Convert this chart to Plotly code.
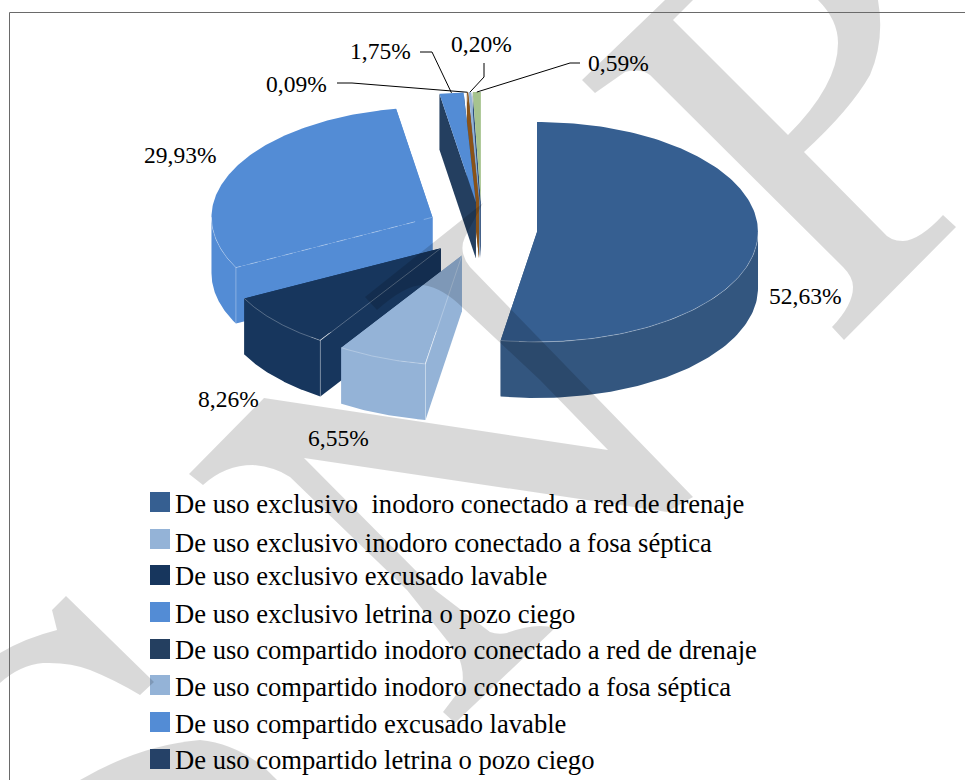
import numpy as np
import plotly.graph_objects as go

# Datos
categorias = [
    "De uso exclusivo  inodoro conectado a red de drenaje",
    "De uso exclusivo inodoro conectado a fosa séptica",
    "De uso exclusivo excusado lavable",
    "De uso exclusivo letrina o pozo ciego",
    "De uso compartido inodoro conectado a red de drenaje",
    "De uso compartido inodoro conectado a fosa séptica",
    "De uso compartido excusado lavable",
    "De uso compartido letrina o pozo ciego",
]
colores_leyenda = ["#365f91", "#94b3d7", "#17365d", "#538cd5", "#243f60", "#94b3d7", "#538cd5", "#2c4d7a"]

# sectores en orden; los tres ultimos no alcanzan a verse en la leyenda recortada
valores = [52.63, 6.55, 8.26, 29.93, 0.0, 0.0, 1.75, 0.0, 0.09, 0.20, 0.59]
etiquetas = ["52,63%", "6,55%", "8,26%", "29,93%", "", "", "1,75%", "", "0,09%", "0,20%", "0,59%"]
color_tapa = ["#365f91", "#94b3d7", "#17365d", "#538cd5", "#243f60", "#94b3d7", "#538cd5", "#2c4d7a", "#8a5318", "#94b3d7", "#a6c38e"]
color_pared = ["#33567f", "#94b3d7", "#17365d", "#538cd5", "#243f60", "#94b3d7", "#538cd5", "#2c4d7a", "#8a5318", "#94b3d7", "#a6c38e"]
color_corte = ["#33567f", "#94b3d7", "#17365d", "#538cd5", "#243f60", "#94b3d7", "#243f60", "#2c4d7a", "#8a5318", "#6f8fb5", "#2c4d7a"]

# Pie en perspectiva, en pixeles de la pagina
cx, cy = 481.9, 229.7
rx, ry = 221, 110
alto = 56
explosion = 55.3
orden_dibujo = [10, 9, 8, 6, 3, 0, 2, 1]

# posicion de las etiquetas (centro en x, centro en y)
pos_etiqueta = {0: (805, 296), 1: (338, 438), 2: (228, 399), 3: (180, 155),
                6: (380, 51), 8: (296, 84), 9: (481, 44), 10: (618, 63)}
# quiebres de las lineas guia
guia = {6: [(420, 52), (432, 52)], 8: [(337, 83), (352, 83)],
        9: [(484, 63), (484, 77)], 10: [(580, 63), (570, 63)]}

leyenda_y = [502, 539, 575, 612, 649, 685, 722, 759]
leyenda_base = [512, 551, 584, 622, 658, 695, 732, 768]


def punto(c, ang):
    return c[0] + rx * np.sin(ang), c[1] - ry * np.cos(ang)


def poly(fig, xs, ys, color):
    fig.add_trace(go.Scatter(x=list(xs), y=list(ys), mode="lines", fill="toself", fillcolor=color,
                             line=dict(width=0), hoverinfo="skip", showlegend=False))


def linea(fig, xs, ys, color="rgba(255,255,255,0.4)", width=0.7, dash="solid"):
    fig.add_trace(go.Scatter(x=list(xs), y=list(ys), mode="lines", line=dict(color=color, width=width, dash=dash),
                             hoverinfo="skip", showlegend=False))


fig = go.Figure()

total = sum(valores)
limites = np.cumsum([0] + valores) / total * 2 * np.pi
centros = {}
for i in range(len(valores)):
    a0, a1 = limites[i], limites[i + 1]
    medio = (a0 + a1) / 2
    centros[i] = (cx + explosion * np.sin(medio), cy - explosion / 2 * np.cos(medio))

for i in orden_dibujo:
    a0, a1 = limites[i], limites[i + 1]
    c = centros[i]
    # caras de corte
    for a in (a1, a0):
        px, py = punto(c, a)
        poly(fig, [c[0], px, px, c[0], c[0]], [c[1], py, py + alto, c[1] + alto, c[1]], color_corte[i])
    # pared exterior, solo lo que mira al frente
    p0, p1 = max(a0, np.pi / 2), min(a1, 3 * np.pi / 2)
    if p1 > p0:
        angs = np.linspace(p0, p1, 80)
        xa, ya = punto(c, angs)
        poly(fig, np.r_[xa, xa[::-1]], np.r_[ya, ya[::-1] + alto], color_pared[i])
    # tapa
    angs = np.linspace(a0, a1, 160)
    xa, ya = punto(c, angs)
    poly(fig, np.r_[c[0], xa, c[0]], np.r_[c[1], ya, c[1]], color_tapa[i])
    # filos claros de los sectores grandes
    if valores[i] > 5:
        if p1 > p0:
            angs = np.linspace(p0, p1, 80)
            xa, ya = punto(c, angs)
            linea(fig, xa, ya)
        if i != 0:
            px, py = punto(c, a0)
            linea(fig, [c[0], px], [c[1], py], dash="dash" if i == 3 else "solid")
            linea(fig, [px, px], [py, py + alto])

# lineas guia hacia los sectores pequenos
for i, quiebre in guia.items():
    medio = (limites[i] + limites[i + 1]) / 2
    px, py = punto(centros[i], medio)
    xs = [q[0] for q in quiebre] + [px]
    ys = [q[1] for q in quiebre] + [py]
    linea(fig, xs, ys, color="black", width=1)

# leyenda
fig.add_trace(go.Scatter(x=[160] * len(categorias), y=leyenda_y, mode="markers",
                         marker=dict(symbol="square", size=20, color=colores_leyenda, line=dict(width=0)),
                         hoverinfo="skip", showlegend=False))

anotaciones = []
for i, (x, y) in pos_etiqueta.items():
    anotaciones.append(dict(x=x, y=y, text=etiquetas[i], showarrow=False, xanchor="center", yanchor="middle",
                            font=dict(family="Liberation Serif", size=23.5, color="black")))
for nombre, base in zip(categorias, leyenda_base):
    anotaciones.append(dict(x=175, y=base - 8, text=nombre, showarrow=False, xanchor="left", yanchor="middle",
                            xshift=-2, font=dict(family="Liberation Serif", size=26.6, color="black")))

# marca de agua
marca_r = ("M582,80 L665,0 L693,0 L673,20 L788,135 Q838,85 838,43 Q838,20 818,0 L878,0 Q885,40 870,75 "
           "Q850,110 804,152 L883,232 Q890,241 903,241 Q920,240 943,215 L956,227 L844,340 L832,327 "
           "Q853,305 853,287 Q853,277 843,267 L650,75 Q640,68 625,72 L595,93 Z")
marca_n = ("M483,203 L365,297 L377,310 Q405,285 423,285 Q443,288 463,308 L540,380 L608,450 L264,398 L189,474 "
           "L203,485 Q225,465 253,465 Q275,467 290,477 L407,590 L457,653 Q465,670 462,687 L443,712 L455,723 "
           "L555,628 Q535,622 507,633 Q498,635 490,632 L435,590 L304,458 L667,512 L693,497 L470,267 "
           "Q458,252 465,237 Z")
marca_a = ("M66,596 L52,610 L57,630 Q25,638 0,653 L0,683 Q20,665 43,663 Q70,662 90,670 Q115,680 140,695 L154,682 Z")
marca_b = "M80,780 Q140,745 200,740 Q245,745 277,780 Z"
formas = [dict(type="path", path=p, xref="x", yref="y", fillcolor="rgba(0,0,0,0.15)", line=dict(width=0), layer="above")
          for p in (marca_r, marca_n, marca_a, marca_b)]
# marco del grafico
formas.append(dict(type="line", x0=9.5, x1=9.5, y0=12.5, y1=780, xref="x", yref="y", line=dict(color="#6a6a6a", width=1)))
formas.append(dict(type="line", x0=9.5, x1=965, y0=12.5, y1=12.5, xref="x", yref="y", line=dict(color="#6a6a6a", width=1)))

fig.update_layout(
    width=965, height=780,
    margin=dict(l=0, r=0, t=0, b=0),
    paper_bgcolor="white", plot_bgcolor="white",
    xaxis=dict(range=[0, 965], visible=False, fixedrange=True),
    yaxis=dict(range=[780, 0], visible=False, fixedrange=True),
    annotations=anotaciones,
    shapes=formas,
    showlegend=False,
)

fig.write_html("out.html", config=dict(displayModeBar=False),
               post_script="document.body.style.margin='0';document.body.style.overflow='hidden';")
